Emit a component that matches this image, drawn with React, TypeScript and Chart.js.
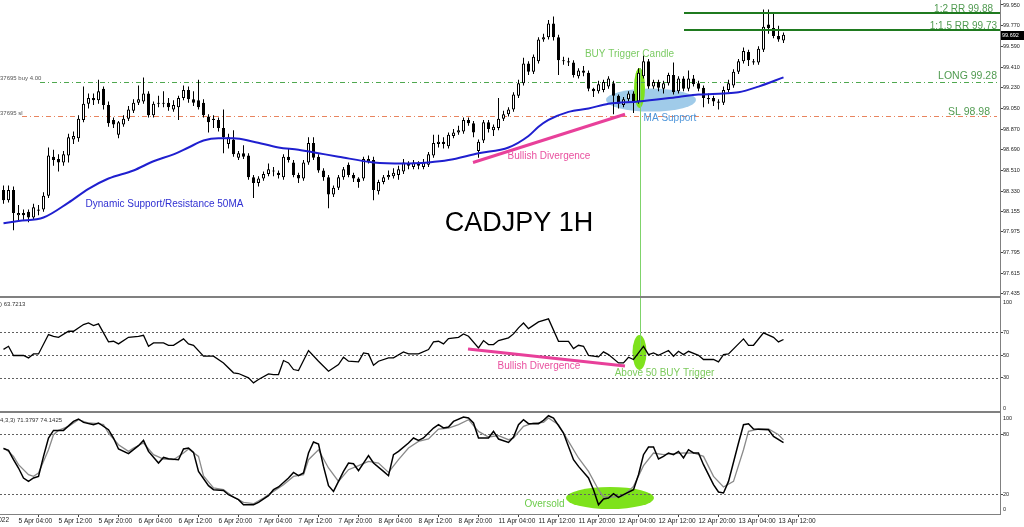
import React, { useEffect, useRef } from 'react';
import { Chart, registerables } from 'chart.js';

Chart.register(...registerables);

const FONT = "'Liberation Sans', Arial, sans-serif";

// ---------- price candles (bar index 0 = 5 Apr 01:00, 1H bars) ----------
const opens = [
  98.34, 98.25, 98.34, 98.12, 98.14, 98.15, 98.10, 98.16, 98.17, 98.29,
  98.63, 98.61, 98.58, 98.64, 98.78, 98.79, 98.95, 99.09, 99.14, 99.12,
  99.22, 99.08, 98.95, 98.82, 98.91, 98.96, 99.03, 99.10, 99.11, 99.18,
  98.99, 99.09, 99.10, 99.10, 99.04, 99.06, 99.14, 99.21, 99.13, 99.12,
  99.10, 98.98, 98.95, 98.95, 98.88, 98.74, 98.78, 98.62, 98.66, 98.64,
  98.45, 98.40, 98.44, 98.48, 98.50, 98.49, 98.45, 98.63, 98.58, 98.47,
  98.44, 98.58, 98.75, 98.63, 98.51, 98.45, 98.30, 98.36, 98.45, 98.56,
  98.47, 98.44, 98.44, 98.59, 98.60, 98.33, 98.41, 98.45, 98.46, 98.47,
  98.50, 98.57, 98.54, 98.57, 98.54, 98.56, 98.64, 98.74, 98.76, 98.72,
  98.81, 98.84, 98.85, 98.95, 98.92, 98.68, 98.77, 98.93, 98.86, 98.88,
  98.96, 99.00, 99.04, 99.16, 99.27, 99.44, 99.37, 99.46, 99.65, 99.67,
  99.79, 99.67, 99.47, 99.46, 99.45, 99.33, 99.38, 99.36, 99.22, 99.20,
  99.21, 99.24, 99.27, 99.16, 99.08, 99.13, 99.18, 99.11, 99.33, 99.46,
  99.24, 99.28, 99.22, 99.27, 99.34, 99.20, 99.31, 99.22, 99.31, 99.27,
  99.23, 99.14, 99.14, 99.11, 99.10, 99.21, 99.25, 99.37, 99.46, 99.54,
  99.46, 99.45, 99.56, 99.78, 99.75, 99.68, 99.64,
];
const highs = [
  98.38, 98.38, 98.37, 98.21, 98.17, 98.17, 98.22, 98.21, 98.32, 98.71,
  98.69, 98.65, 98.68, 98.83, 98.85, 98.99, 99.24, 99.18, 99.18, 99.30,
  99.24, 99.11, 98.97, 98.94, 98.99, 99.07, 99.13, 99.25, 99.32, 99.20,
  99.11, 99.16, 99.20, 99.14, 99.12, 99.16, 99.25, 99.24, 99.20, 99.30,
  99.13, 99.00, 98.99, 98.97, 99.04, 98.83, 98.86, 98.68, 98.73, 98.66,
  98.47, 98.46, 98.50, 98.57, 98.54, 98.51, 98.65, 98.70, 98.60, 98.49,
  98.60, 98.80, 98.80, 98.65, 98.53, 98.47, 98.38, 98.47, 98.54, 98.58,
  98.49, 98.45, 98.63, 98.64, 98.63, 98.43, 98.47, 98.51, 98.53, 98.55,
  98.61, 98.59, 98.60, 98.59, 98.61, 98.67, 98.82, 98.82, 98.80, 98.84,
  98.87, 98.90, 98.97, 98.97, 98.94, 98.78, 98.95, 98.95, 98.91, 99.14,
  99.03, 99.06, 99.19, 99.30, 99.49, 99.46, 99.52, 99.67, 99.70, 99.82,
  99.85, 99.69, 99.50, 99.49, 99.47, 99.40, 99.42, 99.38, 99.23, 99.29,
  99.30, 99.33, 99.29, 99.17, 99.15, 99.20, 99.20, 99.40, 99.51, 99.48,
  99.30, 99.30, 99.29, 99.36, 99.45, 99.33, 99.33, 99.38, 99.34, 99.29,
  99.25, 99.18, 99.16, 99.13, 99.24, 99.30, 99.39, 99.48, 99.58, 99.56,
  99.48, 99.59, 99.91, 99.91, 99.88, 99.77, 99.71,
];
const lows = [
  98.22, 98.23, 97.99, 98.07, 98.08, 98.06, 98.08, 98.12, 98.15, 98.27,
  98.55, 98.50, 98.55, 98.58, 98.74, 98.76, 98.93, 99.05, 99.08, 99.09,
  99.04, 98.89, 98.88, 98.79, 98.89, 98.94, 99.01, 99.08, 99.09, 98.97,
  98.97, 99.06, 99.06, 99.03, 99.02, 98.95, 99.12, 99.10, 99.07, 99.04,
  98.97, 98.84, 98.88, 98.85, 98.66, 98.70, 98.63, 98.60, 98.61, 98.43,
  98.27, 98.37, 98.42, 98.46, 98.46, 98.44, 98.43, 98.58, 98.45, 98.40,
  98.42, 98.56, 98.60, 98.49, 98.42, 98.18, 98.28, 98.34, 98.43, 98.45,
  98.41, 98.36, 98.42, 98.57, 98.25, 98.30, 98.39, 98.43, 98.44, 98.43,
  98.48, 98.52, 98.52, 98.52, 98.52, 98.54, 98.62, 98.71, 98.70, 98.70,
  98.79, 98.82, 98.83, 98.90, 98.80, 98.62, 98.75, 98.84, 98.81, 98.86,
  98.94, 98.98, 99.02, 99.14, 99.25, 99.34, 99.35, 99.44, 99.63, 99.65,
  99.64, 99.34, 99.43, 99.42, 99.32, 99.31, 99.33, 99.20, 99.15, 99.18,
  99.19, 99.22, 99.00, 99.05, 99.06, 99.11, 99.01, 99.09, 99.31, 99.22,
  99.22, 99.20, 99.18, 99.25, 99.17, 99.18, 99.20, 99.20, 99.24, 99.20,
  99.06, 99.09, 99.07, 99.04, 99.08, 99.19, 99.23, 99.35, 99.44, 99.42,
  99.43, 99.43, 99.54, 99.70, 99.66, 99.63, 99.62,
];
const closes = [
  98.25, 98.34, 98.14, 98.14, 98.12, 98.10, 98.19, 98.17, 98.29, 98.64,
  98.60, 98.58, 98.65, 98.80, 98.81, 98.96, 99.09, 99.14, 99.12, 99.20,
  99.08, 98.92, 98.91, 98.93, 98.96, 99.04, 99.10, 99.13, 99.18, 98.99,
  99.09, 99.10, 99.09, 99.06, 99.08, 99.14, 99.21, 99.13, 99.10, 99.06,
  98.99, 98.93, 98.96, 98.88, 98.80, 98.80, 98.65, 98.66, 98.63, 98.45,
  98.40, 98.44, 98.48, 98.52, 98.51, 98.47, 98.63, 98.60, 98.47, 98.44,
  98.58, 98.75, 98.62, 98.51, 98.45, 98.30, 98.36, 98.45, 98.52, 98.47,
  98.44, 98.41, 98.61, 98.61, 98.34, 98.41, 98.45, 98.47, 98.49, 98.52,
  98.58, 98.55, 98.58, 98.55, 98.58, 98.65, 98.75, 98.76, 98.74, 98.82,
  98.84, 98.86, 98.95, 98.92, 98.84, 98.76, 98.93, 98.87, 98.89, 98.96,
  99.00, 99.04, 99.17, 99.27, 99.44, 99.37, 99.50, 99.65, 99.67, 99.79,
  99.67, 99.47, 99.46, 99.45, 99.34, 99.38, 99.36, 99.22, 99.20, 99.26,
  99.28, 99.31, 99.16, 99.09, 99.13, 99.18, 99.11, 99.36, 99.46, 99.24,
  99.28, 99.23, 99.27, 99.34, 99.19, 99.31, 99.22, 99.31, 99.26, 99.22,
  99.14, 99.13, 99.11, 99.10, 99.21, 99.27, 99.37, 99.46, 99.55, 99.47,
  99.45, 99.57, 99.76, 99.75, 99.68, 99.65, 99.69,
];

// ---------- 50 MA ----------
const maIdx = [0, 3, 8, 13, 17, 21, 26, 30, 34, 37, 40, 43, 46, 50, 55, 59, 63, 67, 74, 80, 85, 89, 95, 101, 105, 107, 109, 113, 117, 121, 127, 135, 139, 144, 147, 151, 156];
const maVal = [98.05, 98.07, 98.10, 98.23, 98.35, 98.44, 98.51, 98.59, 98.65, 98.71, 98.77, 98.79, 98.79, 98.76, 98.71, 98.69, 98.66, 98.63, 98.58, 98.57, 98.58, 98.60, 98.66, 98.71, 98.81, 98.89, 98.95, 99.02, 99.05, 99.09, 99.11, 99.15, 99.17, 99.18, 99.19, 99.24, 99.32];

// ---------- RSI ----------
const rsiIdx = [0, 1, 2, 4, 5, 6, 7, 9, 10, 11, 13, 14, 16, 17, 18, 19, 21, 22, 23, 25, 27, 28, 29, 30, 32, 33, 34, 36, 37, 38, 40, 42, 44, 46, 47, 49, 50, 51, 53, 54, 55, 56, 57, 58, 59, 61, 63, 65, 67, 68, 69, 71, 72, 73, 74, 75, 77, 78, 80, 81, 83, 85, 86, 87, 88, 89, 91, 92, 93, 95, 96, 97, 98, 99, 101, 102, 103, 104, 105, 107, 109, 111, 113, 114, 115, 116, 117, 119, 120, 121, 123, 124, 125, 126, 128, 129, 130, 131, 133, 134, 135, 136, 137, 139, 140, 142, 143, 144, 145, 148, 149, 150, 152, 154, 155, 156];
const rsiVal = [55, 57.7, 49.6, 49.6, 47.5, 51, 51, 68, 66.5, 65.6, 70.9, 70.9, 76.8, 78.2, 75.9, 77.4, 61.6, 62.1, 59.8, 65.6, 66.5, 67.4, 57.7, 60.7, 60.7, 58.6, 58.6, 64.2, 59.8, 58.6, 49, 49, 43.1, 34.4, 33.8, 30, 25.6, 28.5, 33.5, 32.9, 32.9, 45.2, 43.1, 37.3, 36.4, 54, 44.6, 35.8, 41.7, 48.1, 44.6, 44, 51.9, 51, 41, 44.6, 47.5, 47.5, 52.8, 51, 51, 54.8, 61.6, 62.1, 59.8, 64.5, 65.6, 68.6, 66.5, 56.3, 62.7, 59.2, 59.2, 62.7, 65.1, 68.6, 73.9, 78.2, 73.2, 79.1, 81.8, 62.1, 62.1, 55.7, 58.6, 57.7, 49.8, 48.4, 52.8, 50.4, 43.1, 43.1, 48.1, 46.1, 57.7, 50.4, 51.9, 49.8, 54, 49, 53.3, 50.4, 53.3, 49.8, 46.1, 46.1, 44, 50.4, 51, 64.2, 58.6, 58.6, 69.5, 65.6, 61.6, 63.7];

// ---------- Stochastic (main %K / signal %D) ----------
const stochKIdx = [0, 1, 2, 3, 4, 5, 6, 7, 8, 9, 10, 12, 14, 15, 16, 18, 19, 21, 22, 23, 25, 27, 28, 29, 31, 32, 33, 35, 36, 37, 38, 39, 41, 42, 44, 45, 47, 48, 50, 51, 53, 54, 55, 57, 58, 59, 60, 61, 62, 63, 64, 65, 66, 68, 69, 70, 71, 73, 74, 76, 77, 78, 79, 81, 82, 83, 84, 86, 87, 88, 89, 90, 92, 93, 94, 95, 97, 98, 99, 101, 102, 103, 104, 105, 107, 108, 109, 110, 112, 113, 114, 115, 117, 118, 119, 120, 121, 122, 123, 124, 126, 127, 128, 129, 130, 131, 132, 133, 134, 135, 136, 137, 138, 139, 140, 142, 143, 144, 145, 147, 148, 149, 150, 153, 154, 156];
const stochKVal = [65.5, 63.6, 54.3, 46, 36, 32.6, 36, 37.6, 57.6, 76, 83.6, 83.6, 92.6, 95, 91.6, 89.3, 91, 84.3, 76, 65, 60.3, 68.3, 73.6, 62.6, 51, 56.6, 55.3, 54.3, 65, 66, 61.6, 42.6, 28.3, 24.3, 23.6, 19.3, 14.3, 9.3, 9.3, 11.6, 18.3, 24.3, 27, 36, 41.6, 38.3, 41, 61, 72, 70, 47.6, 28.3, 22.6, 42.6, 51, 50.3, 43.3, 58.3, 51, 42.6, 38.3, 59.3, 62.6, 71, 76, 73.6, 76, 86, 89.3, 86, 87, 92.6, 97, 96, 91, 76, 76, 82.6, 75, 71.6, 77, 89.3, 94.3, 90.3, 90.3, 93.6, 98.3, 96, 81, 67.6, 54.3, 47.6, 36, 24.3, 9.3, 15, 16, 20.3, 16.6, 19.3, 24.3, 39.3, 59.3, 67, 67, 55, 57.6, 61, 59.3, 62.6, 56, 64.3, 61, 61, 49.3, 29.3, 22, 21, 32.6, 71, 89.3, 90.3, 85, 84.3, 77.6, 71.4];
const stochDIdx = [0, 1, 2, 3, 5, 6, 7, 9, 10, 11, 13, 15, 17, 19, 20, 21, 23, 25, 26, 28, 30, 32, 34, 36, 37, 39, 40, 42, 44, 46, 48, 50, 52, 54, 56, 58, 60, 61, 63, 65, 67, 69, 71, 73, 75, 77, 79, 81, 83, 85, 87, 89, 91, 93, 95, 97, 99, 101, 102, 104, 106, 108, 109, 111, 113, 115, 117, 119, 120, 122, 124, 126, 128, 130, 132, 134, 136, 138, 140, 142, 144, 146, 148, 149, 151, 153, 155, 156];
const stochDVal = [66, 62.6, 57.6, 49.3, 39.3, 37.6, 41, 64.3, 79.3, 83.6, 87.6, 94.3, 91, 90.3, 89.3, 81, 69.3, 62.6, 66, 71, 59.3, 55, 54.3, 61, 65, 57.6, 38, 26, 24.3, 17, 11.6, 10.3, 16, 22.6, 29.3, 37.6, 39.3, 54.3, 64.3, 46, 32.6, 44.3, 48.3, 52.6, 51, 41.6, 54.3, 66, 72.6, 75, 85, 86, 89.3, 94.3, 82.6, 77, 78.3, 74.3, 76, 87.6, 91, 91.6, 96, 89.3, 72.6, 56, 42.6, 24.3, 17, 17, 18.3, 27.6, 48.3, 61, 59.3, 60.3, 61, 61, 57.6, 37.6, 27, 32.6, 64.3, 82.6, 85, 85, 79.3, 74.1];

// ---------- axes ----------
const priceTicks = [99.95, 99.77, 99.59, 99.41, 99.23, 99.05, 98.87, 98.69, 98.51, 98.33, 98.155, 97.975, 97.795, 97.615, 97.435];
const rsiTicks = [30, 50, 70];
const stochTicks = [20, 80];
const rsiLevels = [30, 50, 70];
const stochLevels = [20, 80];
const timeTickIdx = [3, 11, 19, 27, 35, 43, 51, 59, 67, 75, 83, 91, 99, 107, 115, 123, 131, 139, 147, 155];
const timeTickLabels = [
  '5 Apr 04:00', '5 Apr 12:00', '5 Apr 20:00', '6 Apr 04:00', '6 Apr 12:00', '6 Apr 20:00',
  '7 Apr 04:00', '7 Apr 12:00', '7 Apr 20:00', '8 Apr 04:00', '8 Apr 12:00', '8 Apr 20:00',
  '11 Apr 04:00', '11 Apr 12:00', '11 Apr 20:00', '12 Apr 04:00', '12 Apr 12:00', '12 Apr 20:00',
  '13 Apr 04:00', '13 Apr 12:00',
];

// ---------- trade levels ----------
const entryPrice = 99.28;
const stopPrice = 98.98;
const tp15Price = 99.73;
const tp2Price = 99.88;
const lastPrice = 99.692;

function ellipse(ctx: CanvasRenderingContext2D, cx: number, cy: number, rx: number, ry: number, fill: string) {
  ctx.beginPath();
  ctx.ellipse(cx, cy, rx, ry, 0, 0, Math.PI * 2);
  ctx.fillStyle = fill;
  ctx.fill();
}

function seg(ctx: CanvasRenderingContext2D, x1: number, y1: number, x2: number, y2: number) {
  ctx.beginPath();
  ctx.moveTo(x1, y1);
  ctx.lineTo(x2, y2);
  ctx.stroke();
}

function txt(ctx: CanvasRenderingContext2D, s: string, x: number, y: number, color: string, size: number, align: CanvasTextAlign = 'center') {
  ctx.font = `${size}px ${FONT}`;
  ctx.fillStyle = color;
  ctx.textAlign = align;
  ctx.textBaseline = 'middle';
  ctx.fillText(s, x, y);
}

const overlayPlugin = {
  id: 'overlay',
  beforeDatasetsDraw(chart: any) {
    const ctx: CanvasRenderingContext2D = chart.ctx;
    const { left, right } = chart.chartArea;
    const sx = chart.scales.x, sp = chart.scales.y, sr = chart.scales.yRsi, ss = chart.scales.yStoch;
    ctx.save();
    // highlight ellipses (behind the marks)
    ellipse(ctx, sx.getPixelForValue(129.5), sp.getPixelForValue(99.123), 45, 11.5, 'rgba(128,186,226,0.75)');
    ellipse(ctx, sx.getPixelForValue(127.2), sp.getPixelForValue(99.228), 5.5, 20, '#7ee21c');
    ellipse(ctx, sx.getPixelForValue(127.2), sr.getPixelForValue(52.3), 7, 17.5, '#7ee21c');
    ellipse(ctx, sx.getPixelForValue(121.3), ss.getPixelForValue(16), 44, 11, '#7ee21c');

    // indicator level lines
    ctx.strokeStyle = '#606060';
    ctx.lineWidth = 1;
    ctx.setLineDash([2, 2]);
    for (const v of rsiLevels) {
      const y = Math.round(sr.getPixelForValue(v)) + 0.5;
      seg(ctx, left, y, right, y);
    }
    for (const v of stochLevels) {
      const y = Math.round(ss.getPixelForValue(v)) + 0.5;
      seg(ctx, left, y, right, y);
    }

    // order lines (dash-dot)
    ctx.setLineDash([5, 3, 1, 3]);
    ctx.strokeStyle = '#4fa84f';
    let y = Math.round(sp.getPixelForValue(entryPrice)) + 0.5;
    seg(ctx, 40, y, right - 3, y);
    ctx.strokeStyle = '#e8845e';
    y = Math.round(sp.getPixelForValue(stopPrice)) + 0.5;
    seg(ctx, 22, y, right - 3, y);
    ctx.setLineDash([]);

    // vertical trigger line
    ctx.strokeStyle = '#7fd36a';
    ctx.lineWidth = 1;
    const vx = Math.round(sx.getPixelForValue(127.2)) + 0.5;
    seg(ctx, vx, sp.getPixelForValue(99.40), vx, sr.getPixelForValue(52));
    ctx.restore();
  },
  afterDatasetsDraw(chart: any) {
    const ctx: CanvasRenderingContext2D = chart.ctx;
    const { right } = chart.chartArea;
    const sx = chart.scales.x, sp = chart.scales.y, sr = chart.scales.yRsi, ss = chart.scales.yStoch;
    const X = (v: number) => sx.getPixelForValue(v);
    ctx.save();

    // take-profit lines
    ctx.strokeStyle = '#1f7a1f';
    ctx.lineWidth = 2;
    for (const p of [tp2Price, tp15Price]) {
      const y = Math.round(sp.getPixelForValue(p));
      seg(ctx, X(136.1), y, right, y);
    }

    // divergence lines
    ctx.strokeStyle = '#e8409a';
    ctx.lineWidth = 3;
    ctx.lineCap = 'butt';
    seg(ctx, X(93.9), sp.getPixelForValue(98.579), X(124.3), sp.getPixelForValue(98.999));
    seg(ctx, X(92.9), sr.getPixelForValue(55.3), X(124.3), sr.getPixelForValue(40.4));

    // annotation text
    txt(ctx, 'Dynamic Support/Resistance 50MA', X(32.2), sp.getPixelForValue(98.218), '#2f2fd2', 10);
    txt(ctx, 'CADJPY 1H', X(103.1), sp.getPixelForValue(98.048), '#000000', 27);
    txt(ctx, 'Bullish Divergence', X(109.1), sp.getPixelForValue(98.630), '#e9509f', 10);
    txt(ctx, 'BUY Trigger Candle', X(125.2), sp.getPixelForValue(99.524), '#7ccb64', 10);
    txt(ctx, 'MA Support', X(133.3), sp.getPixelForValue(98.966), '#4f96da', 10);
    txt(ctx, '1:2 RR 99.88', X(197.9), sp.getPixelForValue(99.915), '#519b51', 10, 'right');
    txt(ctx, '1:1.5 RR 99.73', X(198.7), sp.getPixelForValue(99.767), '#519b51', 10, 'right');
    txt(ctx, 'LONG 99.28', X(198.7), sp.getPixelForValue(99.332), '#519b51', 10.5, 'right');
    txt(ctx, 'SL 98.98', X(197.3), sp.getPixelForValue(99.019), '#519b51', 10.5, 'right');
    txt(ctx, 'Bullish Divergence', X(107.1), sr.getPixelForValue(39.8), '#e9509f', 10);
    txt(ctx, 'Above 50 BUY Trigger', X(132.2), sr.getPixelForValue(34.0), '#7ccb5c', 10);
    txt(ctx, 'Oversold', X(108.2), ss.getPixelForValue(9.7), '#6ccc4a', 10);

    // order labels
    ctx.font = `6px ${FONT}`;
    ctx.fillStyle = '#555';
    ctx.textAlign = 'left';
    ctx.textBaseline = 'alphabetic';
    ctx.fillText('37695 buy 4.00', 0, sp.getPixelForValue(entryPrice) - 1.5);
    ctx.fillText('37695 sl', 0, sp.getPixelForValue(stopPrice) - 1.5);

    // panel headers
    txt(ctx, ') 63.7213', 0, sr.top + 7, '#333', 6, 'left');
    txt(ctx, '4,3,3) 71.3797 74.1425', 0, ss.top + 8, '#333', 6, 'left');
    ctx.restore();
  },
  afterDraw(chart: any) {
    const ctx: CanvasRenderingContext2D = chart.ctx;
    const { left, right } = chart.chartArea;
    const sp = chart.scales.y, sr = chart.scales.yRsi, ss = chart.scales.yStoch;
    ctx.save();
    // panel separators
    ctx.strokeStyle = '#808080';
    ctx.lineWidth = 2;
    seg(ctx, left, sr.top, right, sr.top);
    seg(ctx, left, ss.top, right, ss.top);

    // edge labels of indicator axes
    const lx = right + 3;
    txt(ctx, '100', lx, sr.getPixelForValue(100) + 4, '#222', 5.5, 'left');
    txt(ctx, '0', lx, sr.getPixelForValue(0) - 4, '#222', 5.5, 'left');
    txt(ctx, '100', lx, ss.getPixelForValue(100) + 4, '#222', 5.5, 'left');
    txt(ctx, '0', lx, ss.getPixelForValue(0) - 5, '#222', 5.5, 'left');

    // current price box
    const py = sp.getPixelForValue(lastPrice);
    ctx.fillStyle = '#000';
    ctx.fillRect(right + 1, Math.round(py) - 4, 23, 9);
    txt(ctx, lastPrice.toFixed(3), right + 2, py + 0.5, '#fff', 5.5, 'left');

    // first (cut) date label
    txt(ctx, '4 Apr 2022', 9, chart.scales.x.top + 6.5, '#222', 6.5, 'right');
    ctx.restore();
  },
};

const fitY = (s: any) => {
  s.width = 24;
  s.paddingTop = 0;
  s.paddingBottom = 0;
};

export default function App() {
  const ref = useRef<HTMLCanvasElement | null>(null);

  useEffect(() => {
    if (!ref.current) return;
    const idx = opens.map((_, i) => i);
    const wickData = idx.map((i) => ({ x: i, y: [lows[i], highs[i]] }));
    const bodyData = idx.map((i) => ({ x: i, y: [opens[i], closes[i]] }));
    const bodyColors = idx.map((i) => (closes[i] >= opens[i] ? '#ffffff' : '#000000'));

    const yTickFont = { size: 5.5, family: FONT };
    const axisCommon = {
      position: 'right' as const,
      stack: 'panels',
      grid: { drawOnChartArea: false, drawTicks: true, tickLength: 3, color: '#444' },
      border: { color: '#808080', width: 1 },
      afterFit: fitY,
    };

    const chart = new Chart(ref.current, {
      type: 'bar',
      data: {
        datasets: [
          {
            type: 'bar',
            data: wickData as any,
            yAxisID: 'y',
            backgroundColor: '#000',
            barThickness: 1,
            grouped: false,
            inflateAmount: 0,
            order: 3,
          } as any,
          {
            type: 'bar',
            data: bodyData as any,
            yAxisID: 'y',
            backgroundColor: bodyColors,
            borderColor: '#000',
            borderWidth: 1,
            borderSkipped: false,
            barThickness: 3,
            grouped: false,
            inflateAmount: 0,
            order: 2,
          } as any,
          {
            type: 'line',
            data: maIdx.map((x, k) => ({ x, y: maVal[k] })),
            yAxisID: 'y',
            borderColor: '#1f1fcf',
            borderWidth: 2,
            pointRadius: 0,
            cubicInterpolationMode: 'monotone',
            order: 1,
          } as any,
          {
            type: 'line',
            data: rsiIdx.map((x, k) => ({ x, y: rsiVal[k] })),
            yAxisID: 'yRsi',
            borderColor: '#000',
            borderWidth: 1.3,
            pointRadius: 0,
            order: 1,
          } as any,
          {
            type: 'line',
            data: stochDIdx.map((x, k) => ({ x, y: stochDVal[k] })),
            yAxisID: 'yStoch',
            borderColor: '#8a8a8a',
            borderWidth: 1.3,
            pointRadius: 0,
            order: 1,
          } as any,
          {
            type: 'line',
            data: stochKIdx.map((x, k) => ({ x, y: stochKVal[k] })),
            yAxisID: 'yStoch',
            borderColor: '#000',
            borderWidth: 1.5,
            pointRadius: 0,
            order: 0,
          } as any,
        ],
      },
      options: {
        responsive: false,
        maintainAspectRatio: false,
        animation: false,
        devicePixelRatio: 1,
        events: [],
        layout: { padding: 0 },
        plugins: { legend: { display: false }, tooltip: { enabled: false } },
        scales: {
          x: {
            type: 'linear',
            position: 'bottom',
            min: -0.7,
            max: 199.3,
            offset: false,
            grid: { drawOnChartArea: false, drawTicks: true, tickLength: 3, color: '#444' },
            border: { color: '#808080', width: 1 },
            afterBuildTicks: (s: any) => {
              s.ticks = timeTickIdx.map((v) => ({ value: v }));
            },
            afterFit: (s: any) => {
              s.height = 13;
              s.paddingLeft = 0;
              s.paddingRight = 0;
            },
            ticks: {
              autoSkip: false,
              maxRotation: 0,
              minRotation: 0,
              align: 'start',
              padding: 0,
              color: '#222',
              font: { size: 6.5, family: FONT },
              callback: (_v: any, i: number) => timeTickLabels[i],
            },
          },
          y: {
            ...axisCommon,
            type: 'linear',
            stackWeight: 297,
            min: 97.4086,
            max: 99.9935,
            afterBuildTicks: (s: any) => {
              s.ticks = priceTicks.map((v) => ({ value: v }));
            },
            ticks: {
              autoSkip: false,
              padding: 0,
              color: '#222',
              font: yTickFont,
              callback: (v: any) => Number(v).toFixed(3),
            },
          },
          yRsi: {
            ...axisCommon,
            type: 'linear',
            stackWeight: 115,
            min: 0,
            max: 101,
            afterBuildTicks: (s: any) => {
              s.ticks = rsiTicks.map((v) => ({ value: v }));
            },
            ticks: { autoSkip: false, padding: 0, color: '#222', font: yTickFont },
          },
          yStoch: {
            ...axisCommon,
            type: 'linear',
            stackWeight: 102,
            min: 0,
            max: 102,
            afterBuildTicks: (s: any) => {
              s.ticks = stochTicks.map((v) => ({ value: v }));
            },
            ticks: { autoSkip: false, padding: 0, color: '#222', font: yTickFont },
          },
        } as any,
      },
      plugins: [overlayPlugin as any],
    });
    return () => chart.destroy();
  }, []);

  return (
    <div style={{ position: 'fixed', left: 0, top: 0, width: 1024, height: 527, background: '#fff' }}>
      <canvas ref={ref} width={1024} height={527} style={{ display: 'block', width: 1024, height: 527 }} />
    </div>
  );
}
